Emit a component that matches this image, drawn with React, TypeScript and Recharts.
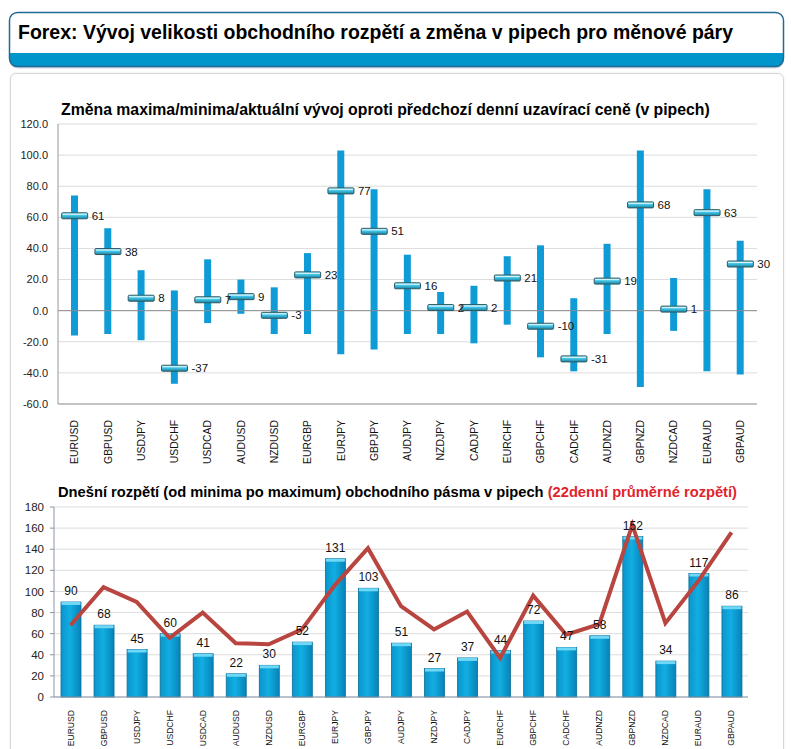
import {
  ComposedChart,
  Bar,
  Line,
  XAxis,
  YAxis,
  CartesianGrid,
  ReferenceLine,
  LabelList,
} from "recharts";

const PAIRS = [
  "EURUSD", "GBPUSD", "USDJPY", "USDCHF", "USDCAD", "AUDUSD", "NZDUSD", "EURGBP", "EURJPY", "GBPJPY", "AUDJPY",
  "NZDJPY", "CADJPY", "EURCHF", "GBPCHF", "CADCHF", "AUDNZD", "GBPNZD", "NZDCAD", "EURAUD", "GBPAUD",
];
// change vs previous daily close (pips)
const HIGHS = [74, 53, 26, 13, 33, 20, 15, 37, 103, 78, 36, 12, 16, 35, 42, 8, 43, 103, 21, 78, 45];
const LOWS = [-16, -15, -19, -47, -8, -2, -15, -15, -28, -25, -15, -15, -21, -9, -30, -39, -15, -49, -13, -39, -41];
const CURRENT = [61, 38, 8, -37, 7, 9, -3, 23, 77, 51, 16, 2, 2, 21, -10, -31, 19, 68, 1, 63, 30];
// today's range + 22 day average range
const SPREAD = [90, 68, 45, 60, 41, 22, 30, 52, 131, 103, 51, 27, 37, 44, 72, 47, 58, 152, 34, 117, 86];
const AVG22 = [68, 104, 90, 56, 80, 51, 50, 64, 106, 141, 86, 64, 81, 37, 96, 59, 69, 163, 70, 110, 156];

const TOP_TICKS = [-60, -40, -20, 0, 20, 40, 60, 80, 100, 120];
const BOTTOM_TICKS = [0, 20, 40, 60, 80, 100, 120, 140, 160, 180];
const EDGE_TICKS = Array.from({ length: 22 }, (_, i) => i);

const FONT = "'Liberation Sans', Arial, sans-serif";
const BLUE = "#0f9bd6";
const RED_LINE = "#b8453f";

const topData = PAIRS.map((p, i) => ({ pair: p, range: [LOWS[i], HIGHS[i]], cur: CURRENT[i] }));
const bottomData = PAIRS.map((p, i) => ({ pair: p, spread: SPREAD[i], avg: AVG22[i] }));

const RotTick = ({ x, y, payload, size, gap }: any) => (
  <text
    transform={`translate(${x},${y + gap}) rotate(-90)`}
    textAnchor="end"
    dy="0.35em"
    fontSize={size}
    fontFamily={FONT}
    fill="#111"
  >
    {payload.value}
  </text>
);

const Marker = ({ cx, cy }: any) => {
  if (cx == null || cy == null) return null;
  return (
    <g>
      <rect x={cx - 13} y={cy - 3} width={26} height={6} rx={1} fill="url(#mk)" stroke="#2f5a63" strokeWidth={1} />
      <line x1={cx - 12} x2={cx + 12} y1={cy - 1.5} y2={cy - 1.5} stroke="#d8f6ff" strokeWidth={1} />
    </g>
  );
};

const Bar3D = ({ x, y, width, height }: any) => {
  if (height <= 0) return null;
  return (
    <g>
      <rect x={x} y={y} width={width} height={height} fill="url(#bb)" stroke="#0b6f98" strokeWidth={0.8} />
      <rect x={x + 0.5} y={y} width={width - 1} height={3} fill="#6fd8f7" />
    </g>
  );
};

export default function App() {
  return (
    <div style={{ position: "absolute", left: 0, top: 0, width: 791, height: 749, background: "#fff", fontFamily: FONT, overflow: "hidden" }}>
      <svg width={791} height={72} style={{ position: "absolute", left: 0, top: 0 }}>
        <defs>
          <clipPath id="hc">
            <rect x={9.5} y={12.5} width={774} height={54} rx={8} />
          </clipPath>
        </defs>
        <rect x={9.5} y={13.5} width={774} height={55} rx={8} fill="#c9d6df" />
        <g clipPath="url(#hc)">
          <rect x={9.5} y={12.5} width={774} height={54} fill="#fff" />
          <rect x={9.5} y={53} width={774} height={14} fill="#0096cc" />
        </g>
        <rect x={9.5} y={12.5} width={774} height={54} rx={8} fill="none" stroke="#1d6a95" strokeWidth={1.5} />
        <text x={18} y={39} fontSize={20} fontWeight="bold" fontFamily={FONT} textLength={715} lengthAdjust="spacingAndGlyphs" fill="#000">
          Forex: Vývoj velikosti obchodního rozpětí a změna v pipech pro měnové páry
        </text>
      </svg>

      <div
        style={{
          position: "absolute",
          left: 10,
          top: 73,
          width: 772,
          height: 690,
          border: "1px solid #d6d6d6",
          borderRadius: 6,
          boxShadow: "0 0 3px rgba(0,0,0,0.08)",
        }}
      />

      <div style={{ position: "absolute", left: 61, top: 101, fontSize: 15.8, fontWeight: "bold", color: "#000", whiteSpace: "nowrap" }}>
        Změna maxima/minima/aktuální vývoj oproti předchozí denní uzavírací ceně (v pipech)
      </div>

      <div style={{ position: "absolute", left: 0, top: 100 }}>
        <ComposedChart width={791} height={364} data={topData} margin={{ top: 24, right: 34, bottom: 0, left: 0 }} barCategoryGap={0}>
          <defs>
            <linearGradient id="mk" x1="0" y1="0" x2="0" y2="1">
              <stop offset="0" stopColor="#9ae8f8" />
              <stop offset="0.5" stopColor="#3cc0e4" />
              <stop offset="1" stopColor="#1e7f9a" />
            </linearGradient>
          </defs>
          <CartesianGrid horizontal vertical={false} stroke="#dcdcdc" />
          <XAxis
            dataKey="pair"
            interval={0}
            height={60}
            tickLine={false}
            axisLine={{ stroke: "#999" }}
            tick={<RotTick size={10.4} gap={8} />}
          />
          <YAxis
            domain={[-60, 120]}
            ticks={TOP_TICKS}
            width={58}
            tickSize={0}
            tickMargin={10}
            axisLine={{ stroke: "#999" }}
            tickFormatter={(v: number) => v.toFixed(1)}
            tick={{ fontSize: 11, fill: "#222", fontFamily: FONT }}
            interval={0}
          />
          <ReferenceLine y={0} stroke="#8c8c8c" />
          <Bar dataKey="range" fill={BLUE} barSize={7} isAnimationActive={false} />
          <Line dataKey="cur" stroke="none" strokeWidth={0} dot={<Marker />} activeDot={false} isAnimationActive={false}>
            <LabelList dataKey="cur" position="right" offset={17} fontSize={11.5} fill="#111" fontFamily={FONT} />
          </Line>
        </ComposedChart>
      </div>

      <div style={{ position: "absolute", left: 58, top: 484, fontSize: 14.7, fontWeight: "bold", color: "#000", whiteSpace: "nowrap" }}>
        Dnešní rozpětí (od minima po maximum) obchodního pásma v pipech{" "}
        <span style={{ color: "#e0242c" }}>(22denní průměrné rozpětí)</span>
      </div>

      <div style={{ position: "absolute", left: 0, top: 500 }}>
        <ComposedChart width={791} height={255} data={bottomData} margin={{ top: 7, right: 43, bottom: 0, left: 0 }} barCategoryGap="19%">
          <defs>
            <linearGradient id="bb" x1="0" y1="0" x2="1" y2="0">
              <stop offset="0" stopColor="#0a95cc" />
              <stop offset="0.45" stopColor="#12aee2" />
              <stop offset="1" stopColor="#0683b8" />
            </linearGradient>
          </defs>
          <CartesianGrid horizontal vertical={false} stroke="#dcdcdc" />
          <XAxis
            xAxisId="edge"
            type="number"
            domain={[0, 21]}
            ticks={EDGE_TICKS}
            height={0}
            tick={false}
            tickSize={4}
            tickLine={{ stroke: "#8896a8" }}
            axisLine={false}
            allowDataOverflow
          />
          <XAxis
            dataKey="pair"
            interval={0}
            height={58}
            tickLine={false}
            axisLine={{ stroke: "#8896a8" }}
            tick={<RotTick size={8.6} gap={5} />}
          />
          <YAxis
            domain={[0, 180]}
            ticks={BOTTOM_TICKS}
            width={54}
            tickSize={4}
            tickMargin={6}
            tickLine={{ stroke: "#8896a8" }}
            axisLine={{ stroke: "#8896a8" }}
            tick={{ fontSize: 11.5, fill: "#222", fontFamily: FONT }}
            interval={0}
          />
          <Bar dataKey="spread" shape={<Bar3D />} barSize={20} isAnimationActive={false}>
            <LabelList dataKey="spread" position="top" offset={7} fontSize={12} fill="#111" fontFamily={FONT} />
          </Bar>
          <Line dataKey="avg" type="linear" stroke={RED_LINE} strokeWidth={4} dot={false} activeDot={false} isAnimationActive={false} />
        </ComposedChart>
      </div>
    </div>
  );
}
